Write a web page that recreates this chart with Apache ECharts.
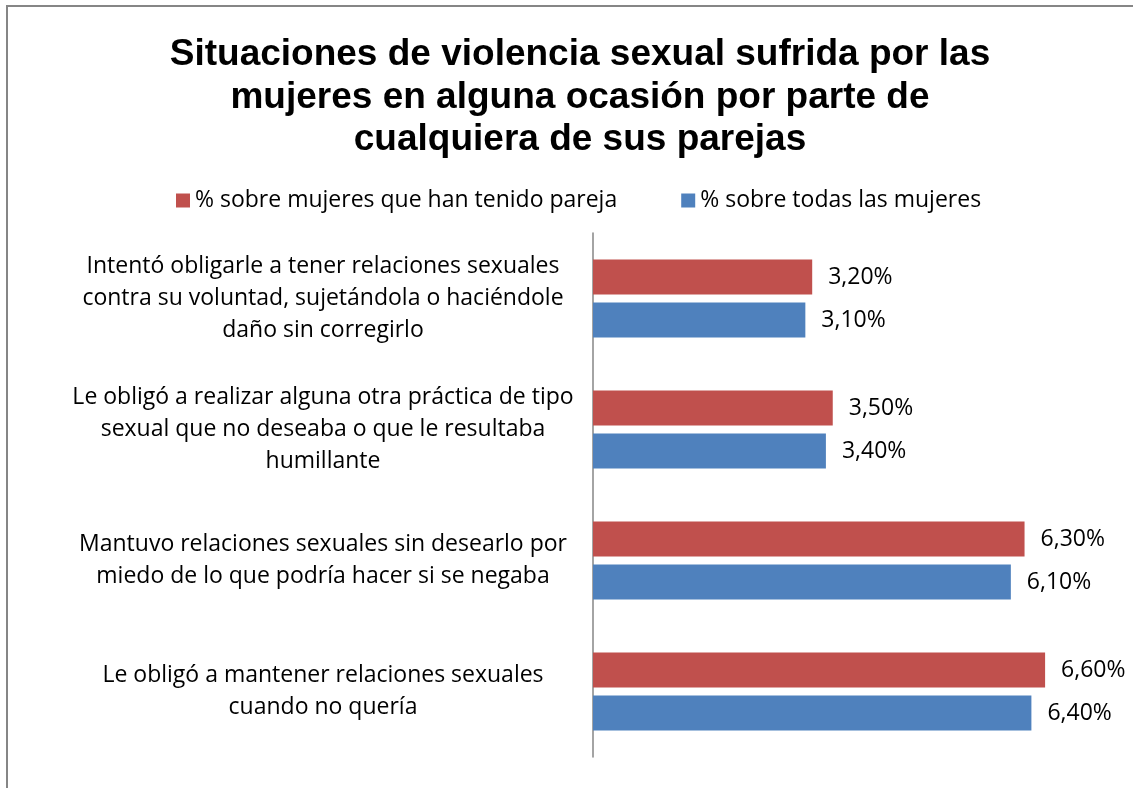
<!DOCTYPE html>
<html>
<head>
    <meta charset="utf-8">
    <title>ECharts</title>
    <script src="https://cdn.jsdelivr.net/npm/echarts@6/dist/echarts.min.js"></script>
    <style>
        body { margin: 0; background: #fff; }
    </style>
</head>
<body>
    <div id="main" style="width: 1133px;height:788px;"></div>
    <script type="text/javascript">
        // categorías (de arriba a abajo)
        var categories = [
            'Intentó obligarle a tener relaciones sexuales\ncontra su voluntad, sujetándola o haciéndole\ndaño sin corregirlo',
            'Le obligó a realizar alguna otra práctica de tipo\nsexual que no deseaba o que le resultaba\nhumillante',
            'Mantuvo relaciones sexuales sin desearlo por\nmiedo de lo que podría hacer si se negaba',
            'Le obligó a mantener relaciones sexuales\ncuando no quería'
        ];
        var seriesNames = ['% sobre mujeres que han tenido pareja', '% sobre todas las mujeres'];
        var conPareja = [3.2, 3.5, 6.3, 6.6];
        var todas = [3.1, 3.4, 6.1, 6.4];

        var font = '"Open Sans", Lato, sans-serif';
        var myChart = echarts.init(document.getElementById('main'));

        function pct(p) {
            return p.value.toFixed(2).replace('.', ',') + '%';
        }

        var option = {
            animation: false,
            backgroundColor: '#fff',
            title: {
                text: 'Situaciones de violencia sexual sufrida por las\nmujeres en alguna ocasión por parte de\ncualquiera de sus parejas',
                left: 575,
                top: 29,
                textAlign: 'center',
                textStyle: {
                    fontFamily: '"Liberation Sans", Arial, sans-serif',
                    fontWeight: 'bold',
                    fontSize: 37,
                    lineHeight: 42.5,
                    color: '#000'
                }
            },
            legend: {
                top: 184,
                left: 171,
                itemWidth: 14,
                itemHeight: 14,
                itemGap: 64,
                icon: 'rect',
                textStyle: { fontFamily: font, fontSize: 23, color: '#000' },
                data: seriesNames
            },
            grid: {
                left: 593,
                top: 233,
                width: 479.5,
                height: 524,
                containLabel: false
            },
            xAxis: {
                type: 'value',
                min: 0,
                max: 7,
                show: false
            },
            yAxis: {
                type: 'category',
                inverse: true,
                data: categories,
                axisLine: { show: true, lineStyle: { color: '#868686', width: 1.5 } },
                axisTick: { show: false },
                axisLabel: {
                    align: 'center',
                    margin: 270,
                    fontFamily: font,
                    fontSize: 23,
                    lineHeight: 32,
                    color: '#000'
                }
            },
            series: [
                {
                    name: seriesNames[0],
                    type: 'bar',
                    data: conPareja,
                    barWidth: 35,
                    barGap: '23%',
                    itemStyle: { color: '#C0504D' },
                    label: {
                        show: true, position: 'right', distance: 16,
                        formatter: pct, fontFamily: font, fontSize: 23, color: '#000'
                    }
                },
                {
                    name: seriesNames[1],
                    type: 'bar',
                    data: todas,
                    barWidth: 35,
                    barGap: '23%',
                    itemStyle: { color: '#4F81BD' },
                    label: {
                        show: true, position: 'right', distance: 16,
                        formatter: pct, fontFamily: font, fontSize: 23, color: '#000'
                    }
                }
            ],
            graphic: [{
                type: 'rect',
                silent: true,
                shape: { x: 7, y: 6, width: 1300, height: 1000 },
                style: { fill: 'none', stroke: '#868686', lineWidth: 2 }
            }]
        };

        myChart.setOption(option);
    </script>
</body>
</html>
